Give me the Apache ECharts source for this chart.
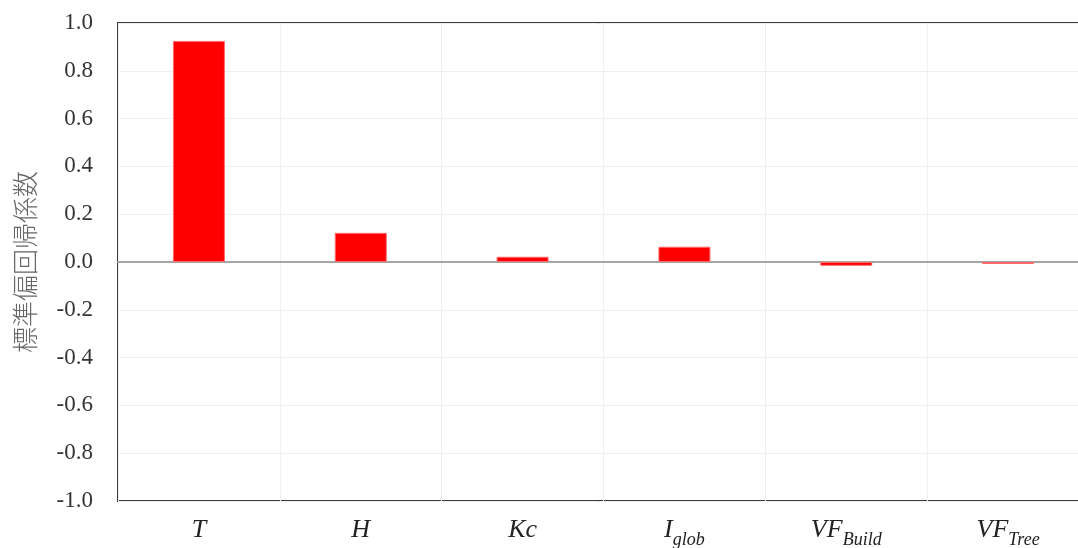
<!DOCTYPE html>
<html>
<head>
<meta charset="utf-8">
<script src="https://cdn.jsdelivr.net/npm/echarts@6/dist/echarts.min.js"></script>
<style>
  html, body { margin: 0; padding: 0; background: #fff; }
  #chart { width: 1078px; height: 548px; }
</style>
</head>
<body>
<div id="chart"></div>
<script>
// Variables (category keys) and their standardized partial regression coefficients
const categories = ['T', 'H', 'Kc', 'Iglob', 'VFBuild', 'VFTree'];
const coefficients = [0.925, 0.122, 0.022, 0.064, -0.016, -0.008];
const yTicks = [-1.0, -0.8, -0.6, -0.4, -0.2, 0.0, 0.2, 0.4, 0.6, 0.8, 1.0];
const yAxisTitle = '標準偏回帰係数';

// Rich-text label for each category: italic base letters with subscripts
const labelText = {
  T: '{b|T}',
  H: '{b|H}',
  Kc: '{b|Kc}',
  Iglob: '{b|I}{s|glob}',
  VFBuild: '{b|VF}{s|Build}',
  VFTree: '{b|VF}{s|Tree}'
};

const chart = echarts.init(document.getElementById('chart'));
const serif = '"Liberation Serif", "DejaVu Serif", serif';

chart.setOption({
  animation: false,
  backgroundColor: '#ffffff',
  grid: {
    left: 118,
    top: 23,
    right: -11,
    bottom: 47,
    containLabel: false,
    outerBoundsMode: 'none',
    show: true,
    borderColor: '#3a3a3a',
    borderWidth: 2,
    backgroundColor: 'transparent'
  },
  xAxis: {
    type: 'category',
    data: categories,
    boundaryGap: true,
    axisLine: { show: true, onZero: true, lineStyle: { color: '#a6a6a6', width: 2 } },
    axisTick: { show: false },
    splitLine: { show: true, lineStyle: { color: '#efefef', width: 1 } },
    axisLabel: {
      margin: 16,
      interval: 0,
      formatter: v => labelText[v],
      rich: {
        b: { fontFamily: serif, fontStyle: 'italic', fontSize: 26, color: '#222222', verticalAlign: 'bottom', lineHeight: 26 },
        s: { fontFamily: serif, fontStyle: 'italic', fontSize: 18, color: '#222222', verticalAlign: 'bottom', padding: [0, 0, -6, 0], lineHeight: 26 }
      }
    }
  },
  yAxis: {
    type: 'value',
    min: -1,
    max: 1,
    interval: 0.2,
    name: yAxisTitle,
    nameLocation: 'middle',
    nameGap: 80,
    nameRotate: 90,
    nameTextStyle: { fontFamily: '"Noto Sans CJK JP", sans-serif', fontSize: 26, fontWeight: 300, color: '#666666' },
    axisLine: { show: false },
    axisTick: { show: false },
    splitLine: { show: true, lineStyle: { color: '#efefef', width: 1 } },
    axisLabel: {
      margin: 25,
      fontFamily: serif,
      fontSize: 23,
      color: '#333333',
      formatter: v => {
        const t = yTicks.find(x => Math.abs(x - v) < 1e-9);
        return (t !== undefined ? t : v).toFixed(1);
      }
    }
  },
  series: [{
    type: 'bar',
    data: coefficients,
    barWidth: 52,
    itemStyle: { color: '#ff0000', borderColor: '#ff6b6b', borderWidth: 1 }
  }]
});
</script>
</body>
</html>
